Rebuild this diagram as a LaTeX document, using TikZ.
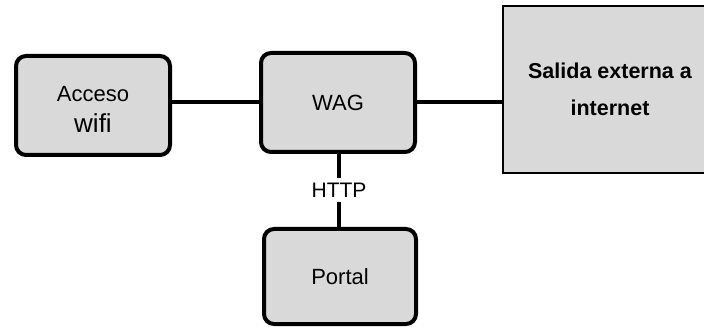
\documentclass[tikz,border=0pt]{standalone}
\usepackage{fontspec}
\setmainfont{Liberation Sans}
\usetikzlibrary{positioning}
\definecolor{boxgray}{HTML}{D9D9D9}

\begin{document}
\begin{tikzpicture}[x=1pt,y=-1pt]
% STYLES
\tikzset{%
    unit/.style={%
        rectangle,rounded corners=10pt,draw,line width=4pt,fill=boxgray,
        minimum width=154pt,minimum height=99pt,align=center,inner sep=0pt,
        font=\fontsize{22}{31}\selectfont
    },
    exit/.style={%
        rectangle,draw,line width=1.5pt,fill=boxgray,
        minimum width=214pt,minimum height=167pt,align=center,inner sep=0pt,
        font=\bfseries\fontsize{21.5}{37}\selectfont
    },
    link/.style={line width=4pt}
}
\useasboundingbox (0,0) rectangle (704,331);
% Draw units
\node [unit] (acceso) at (93,105.5) {\rule{0pt}{24pt}Acceso\\{\fontsize{26}{31}\selectfont wifi}};
\node [unit] (wag) at (338,102.5) {WAG};
\node [unit, minimum width=152pt, minimum height=95pt] (portal) at (340,276.5) {Portal};
\node [exit] (salida) at (610,89.5) {Salida externa a\\internet};
\node [inner sep=5pt, font=\fontsize{21}{24}\selectfont] (http) at (339,190) {HTTP};
% Draw the links between units
\draw [link] (acceso.east |- wag.west) -- (wag.west);
\draw [link] (wag.east) -- (wag.east -| salida.west);
\draw [link] (wag.south -| http.north) -- (http.north);
\draw [link] (http.south) -- (http.south |- portal.north);
\end{tikzpicture}
\end{document}
